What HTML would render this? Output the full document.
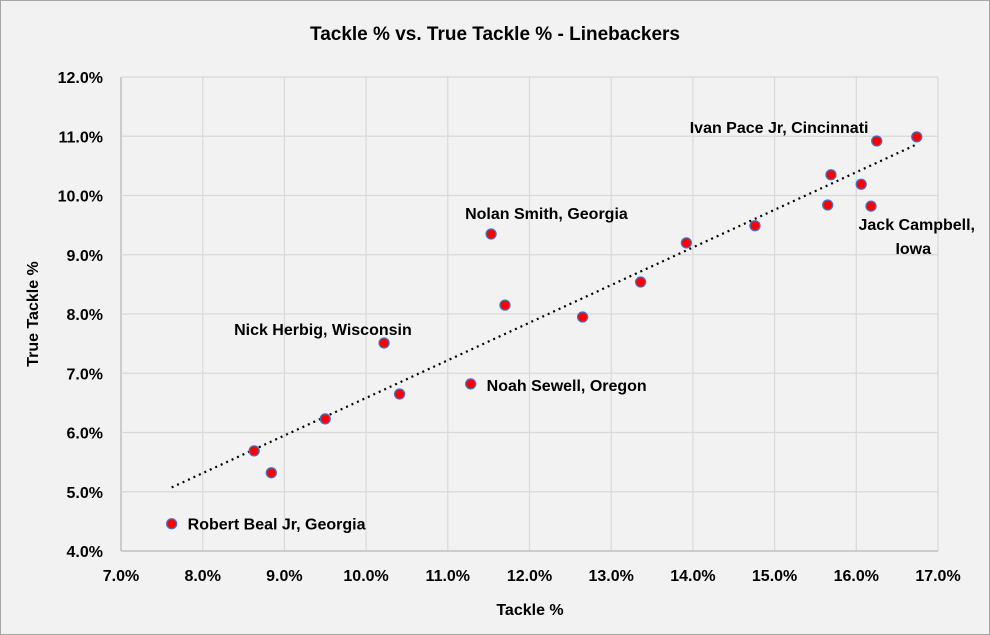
<!DOCTYPE html>
<html><head><meta charset="utf-8"><style>
body{margin:0;background:#f2f2f2;}
svg{display:block;font-family:"Liberation Sans",Arial,sans-serif;}
</style></head><body>
<svg id="chart" width="990" height="635">
<rect x="0.5" y="0.5" width="989" height="634" fill="#f2f2f2" stroke="#a6a6a6"/>
<text x="495" y="40" text-anchor="middle" font-size="19" font-weight="bold" fill="#000">Tackle % vs. True Tackle % - Linebackers</text>
<g id="grid"></g><g id="axes"></g><g id="trend"></g><g id="pts"></g><g id="labels"></g>
<text x="530" y="615" text-anchor="middle" font-size="16" font-weight="bold">Tackle %</text>
<text transform="translate(38,314) rotate(-90)" text-anchor="middle" font-size="16" font-weight="bold">True Tackle %</text>
</svg>
<script>
const xTicks=[7,8,9,10,11,12,13,14,15,16,17];
const yTicks=[4,5,6,7,8,9,10,11,12];
const tacklePct=[7.62,8.63,8.84,9.50,10.22,10.41,11.28,11.53,11.70,12.65,13.36,13.92,14.76,15.65,15.69,16.06,16.18,16.25,16.74];
const trueTacklePct=[4.46,5.69,5.32,6.23,7.51,6.65,6.82,9.35,8.15,7.95,8.54,9.20,9.49,9.84,10.35,10.19,9.82,10.92,10.99];
const annotations=[
 {i:0,text:"Robert Beal Jr, Georgia",dx:16,dy:0},
 {i:4,text:"Nick Herbig, Wisconsin",dx:-150,dy:-14},
 {i:6,text:"Noah Sewell, Oregon",dx:16,dy:1},
 {i:7,text:"Nolan Smith, Georgia",dx:-26,dy:-21},
 {i:17,text:"Ivan Pace Jr, Cincinnati",dx:-187,dy:-14}
];
const NS="http://www.w3.org/2000/svg";
const X0=121,X1=938,Y0=551,Y1=77;
const xs=v=>X0+(v-7)/(17-7)*(X1-X0);
const ys=v=>Y0-(v-4)/(12-4)*(Y0-Y1);
function mk(tag,attrs,parent,txt){const e=document.createElementNS(NS,tag);for(const k in attrs)e.setAttribute(k,attrs[k]);if(txt!=null)e.textContent=txt;document.getElementById(parent).appendChild(e);return e;}
xTicks.forEach(t=>{
 const l=mk('line',{x1:xs(t),x2:xs(t),y1:Y1,y2:Y0,stroke:t===7?'#bfbfbf':'#d9d9d9','stroke-width':t===7?1.5:1.2},'grid');
 
 
 const tx=mk('text',{x:xs(t),y:Y0+30,'text-anchor':'middle','font-size':16,'font-weight':'bold'},'axes',t.toFixed(1)+'%');
 
 
});
yTicks.forEach(t=>{
 const l=mk('line',{x1:X0,x2:X1,y1:ys(t),y2:ys(t),stroke:t===4?'#bfbfbf':'#d9d9d9','stroke-width':t===4?1.5:1.2},'grid');
 
 
 const tx=mk('text',{x:X0-18,y:ys(t)+6,'text-anchor':'end','font-size':16,'font-weight':'bold'},'axes',t.toFixed(1)+'%');
 
 
});
const n=tacklePct.length;let sx=0,sy=0,sxx=0,sxy=0;
for(let i=0;i<n;i++){sx+=tacklePct[i];sy+=trueTacklePct[i];sxx+=tacklePct[i]**2;sxy+=tacklePct[i]*trueTacklePct[i];}
const b=(n*sxy-sx*sy)/(n*sxx-sx*sx),a=(sy-b*sx)/n;
const xmin=Math.min(...tacklePct),xmax=Math.max(...tacklePct);
const tl=mk('line',{x1:xs(xmin),y1:ys(a+b*xmin),x2:xs(xmax),y2:ys(a+b*xmax),stroke:'#000','stroke-width':2.2,'stroke-dasharray':'2 4'},'trend');


for(let i=0;i<n;i++){
 const c=mk('circle',{cx:xs(tacklePct[i]),cy:ys(trueTacklePct[i]),r:5,fill:'#ff0000',stroke:'#4472c4','stroke-width':1.3},'pts');
 
 
}
annotations.forEach(an=>{
 const t=mk('text',{x:xs(tacklePct[an.i])+an.dx,y:ys(trueTacklePct[an.i])+an.dy+6,'font-size':16,'font-weight':'bold'},'labels',an.text);
 
 
});
const jc=mk('text',{x:975,y:230,'text-anchor':'end','font-size':16,'font-weight':'bold'},'labels','Jack Campbell,');


const jc2=mk('text',{x:931,y:254,'text-anchor':'end','font-size':16,'font-weight':'bold'},'labels','Iowa');


</script>
</body></html>
